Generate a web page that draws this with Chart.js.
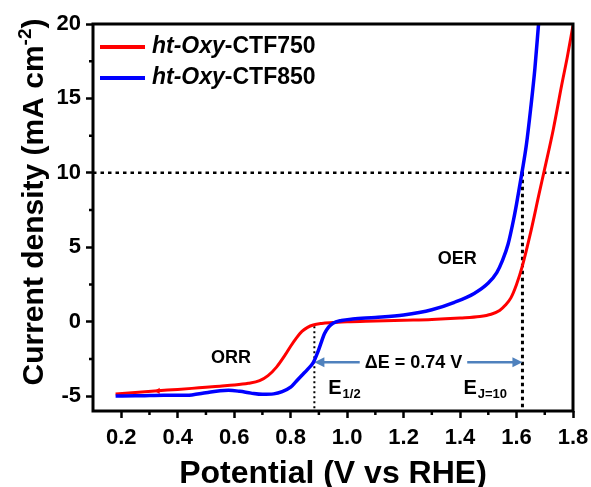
<!DOCTYPE html>
<html><head><meta charset="utf-8">
<script src="https://cdn.jsdelivr.net/npm/chart.js@4"></script>
<style>html,body{margin:0;padding:0;background:#fff;}canvas{display:block;}</style>
</head><body>
<canvas id="c" width="591" height="487"></canvas>
<script>
// ---- data ----
const potential750 = [0.18,0.25,0.33,0.40,0.45,0.50,0.55,0.60,0.65,0.69,0.72,0.75,0.78,0.80,0.82,0.84,0.86,0.88,0.91,0.95,1.00,1.10,1.20,1.30,1.40,1.47,1.51,1.54,1.56,1.58,1.60,1.62,1.65,1.68,1.70,1.73,1.76,1.78,1.80];
const current750   = [-4.85,-4.75,-4.64,-4.55,-4.48,-4.40,-4.33,-4.26,-4.14,-3.96,-3.62,-3.05,-2.25,-1.65,-1.10,-0.65,-0.38,-0.22,-0.12,-0.06,0.00,0.05,0.10,0.15,0.25,0.35,0.50,0.75,1.10,1.60,2.50,3.70,6.00,8.60,10.3,12.9,15.9,17.8,19.9];
const potential850 = [0.18,0.25,0.30,0.35,0.40,0.45,0.50,0.55,0.58,0.62,0.66,0.70,0.74,0.77,0.80,0.82,0.84,0.86,0.88,0.895,0.91,0.92,0.935,0.95,0.98,1.02,1.10,1.20,1.30,1.38,1.45,1.50,1.53,1.55,1.57,1.59,1.60,1.61,1.62,1.635,1.65,1.665,1.678];
const current850   = [-5.00,-4.98,-4.96,-4.94,-4.95,-4.92,-4.78,-4.64,-4.61,-4.68,-4.80,-4.88,-4.85,-4.70,-4.40,-4.00,-3.60,-3.20,-2.75,-2.10,-1.30,-0.80,-0.35,-0.10,0.08,0.18,0.28,0.45,0.80,1.30,1.90,2.60,3.30,4.10,5.20,6.90,7.90,9.00,10.1,11.9,14.3,17.0,20.0];
const markerPotential = [0.33];
const markerCurrent = [-4.65];
const legendItalic = ['ht-Oxy','ht-Oxy'];
const legendRest = ['-CTF750','-CTF850'];
const seriesColors = ['#ff0000','#0000ff'];
const xTicks = [0.2,0.4,0.6,0.8,1.0,1.2,1.4,1.6,1.8];
const xMinorTicks = [0.3,0.5,0.7,0.9,1.1,1.3,1.5,1.7];
const yTicks = [-5,0,5,10,15,20];
const yMinorTicks = [-2.5,2.5,7.5,12.5,17.5];
const eHalf = 0.884, eJ10 = 1.621, jRef = 10, arrowJ = -2.72;
const deltaText = '\u0394E = 0.74 V';

const FONT = "'Liberation Sans', Arial, sans-serif";

const decor = {
  id: 'decor',
  beforeDatasetsDraw(chart) {
    const {ctx, chartArea: a, scales: {x, y}} = chart;
    ctx.save();
    ctx.strokeStyle = '#000';
    // horizontal J=10
    ctx.lineWidth = 2.5; ctx.setLineDash([3.5, 4]);
    ctx.beginPath(); ctx.moveTo(a.left, y.getPixelForValue(jRef)); ctx.lineTo(a.right, y.getPixelForValue(jRef)); ctx.stroke();
    // E J=10 vertical
    ctx.lineWidth = 3; ctx.setLineDash([3.5, 3.5]);
    ctx.beginPath(); ctx.moveTo(x.getPixelForValue(eJ10), y.getPixelForValue(jRef)); ctx.lineTo(x.getPixelForValue(eJ10), a.bottom); ctx.stroke();
    // E1/2 vertical
    ctx.lineWidth = 2; ctx.setLineDash([2, 3]);
    ctx.beginPath(); ctx.moveTo(x.getPixelForValue(eHalf), y.getPixelForValue(-0.3)); ctx.lineTo(x.getPixelForValue(eHalf), a.bottom); ctx.stroke();
    ctx.setLineDash([]);
    // arrow
    const ay = y.getPixelForValue(arrowJ), x1 = x.getPixelForValue(eHalf), x2 = x.getPixelForValue(eJ10);
    ctx.strokeStyle = '#4f81bd'; ctx.fillStyle = '#4f81bd'; ctx.lineWidth = 2.5;
    ctx.beginPath(); ctx.moveTo(x1 + 6, ay); ctx.lineTo(x2 - 6, ay); ctx.stroke();
    ctx.beginPath(); ctx.moveTo(x1, ay); ctx.lineTo(x1 + 10, ay - 5); ctx.lineTo(x1 + 10, ay + 5); ctx.closePath(); ctx.fill();
    ctx.beginPath(); ctx.moveTo(x2, ay); ctx.lineTo(x2 - 10, ay - 5); ctx.lineTo(x2 - 10, ay + 5); ctx.closePath(); ctx.fill();
    // text with white background
    ctx.font = 'bold 18px ' + FONT;
    const tx = x.getPixelForValue(1.235);
    const tw = ctx.measureText(deltaText).width;
    ctx.fillStyle = '#fff'; ctx.fillRect(tx - tw / 2 - 5, ay - 10, tw + 10, 20);
    ctx.fillStyle = '#000'; ctx.textAlign = 'center'; ctx.textBaseline = 'middle';
    ctx.fillText(deltaText, tx, ay + 1);
    ctx.restore();
  },
  afterDraw(chart) {
    const {ctx, chartArea: a, scales: {x, y}} = chart;
    ctx.save();
    // box
    ctx.strokeStyle = '#000'; ctx.lineWidth = 3;
    ctx.strokeRect(a.left, a.top, a.right - a.left, a.bottom - a.top);
    // minor ticks
    ctx.lineWidth = 2.5;
    ctx.beginPath();
    xMinorTicks.forEach(v => { const p = x.getPixelForValue(v); ctx.moveTo(p, a.bottom); ctx.lineTo(p, a.bottom + 4); });
    yMinorTicks.forEach(v => { const p = y.getPixelForValue(v); ctx.moveTo(a.left, p); ctx.lineTo(a.left - 4, p); });
    ctx.stroke();
    // annotations
    ctx.fillStyle = '#000';
    ctx.font = 'bold 18px ' + FONT; ctx.textAlign = 'center'; ctx.textBaseline = 'middle';
    ctx.fillText('ORR', x.getPixelForValue(0.589), y.getPixelForValue(-2.43));
    ctx.fillText('OER', x.getPixelForValue(1.39), y.getPixelForValue(4.2));
    ctx.textAlign = 'left'; ctx.textBaseline = 'alphabetic';
    const sub = (main, s, vx, vy) => {
      const px = x.getPixelForValue(vx), py = y.getPixelForValue(vy);
      ctx.font = 'bold 20px ' + FONT; ctx.fillText(main, px, py);
      const w = ctx.measureText(main).width;
      ctx.font = 'bold 13px ' + FONT; ctx.fillText(s, px + w + 1, py + 4);
    };
    sub('E', '1/2', 0.933, -4.85);
    sub('E', 'J=10', 1.412, -4.85);
    // legend
    for (let i = 0; i < 2; i++) {
      const ly = a.top + 23 + i * 31;
      ctx.strokeStyle = seriesColors[i]; ctx.lineWidth = 4;
      ctx.beginPath(); ctx.moveTo(a.left + 7, ly); ctx.lineTo(a.left + 52, ly); ctx.stroke();
      ctx.fillStyle = '#000'; ctx.textBaseline = 'alphabetic'; ctx.textAlign = 'left';
      ctx.font = 'italic bold 23px ' + FONT;
      ctx.fillText(legendItalic[i], a.left + 59, ly + 6);
      const w = ctx.measureText(legendItalic[i]).width;
      ctx.font = 'bold 23px ' + FONT;
      ctx.fillText(legendRest[i], a.left + 59 + w, ly + 6);
    }
    // x title
    ctx.font = 'bold 32px ' + FONT; ctx.textAlign = 'center'; ctx.textBaseline = 'alphabetic';
    ctx.fillText('Potential (V vs RHE)', (a.left + a.right) / 2, 483);
    // y title with superscript
    ctx.translate(43, 202); ctx.rotate(-Math.PI / 2);
    const p1 = 'Current density (mA cm', sup = '-2', p2 = ')';
    ctx.font = 'bold 30px ' + FONT; const w1 = ctx.measureText(p1).width, w3 = ctx.measureText(p2).width;
    ctx.font = 'bold 19px ' + FONT; const w2 = ctx.measureText(sup).width;
    let sx = -(w1 + w2 + w3) / 2;
    ctx.textAlign = 'left';
    ctx.font = 'bold 30px ' + FONT; ctx.fillText(p1, sx, 0); sx += w1;
    ctx.font = 'bold 19px ' + FONT; ctx.fillText(sup, sx, -12); sx += w2;
    ctx.font = 'bold 30px ' + FONT; ctx.fillText(p2, sx, 0);
    ctx.restore();
  }
};

const tickFont = {family: FONT, size: 22, weight: 'bold'};
new Chart(document.getElementById('c'), {
  type: 'scatter',
  data: {
    datasets: [
      {label: legendItalic[0] + legendRest[0], data: potential750.map((v, i) => ({x: v, y: current750[i]})), showLine: true, borderColor: seriesColors[0], backgroundColor: seriesColors[0], borderWidth: 3, pointRadius: 0, cubicInterpolationMode: 'monotone', order: 2},
      {label: legendItalic[1] + legendRest[1], data: potential850.map((v, i) => ({x: v, y: current850[i]})), showLine: true, borderColor: seriesColors[1], backgroundColor: seriesColors[1], borderWidth: 3.5, pointRadius: 0, cubicInterpolationMode: 'monotone', order: 1},
      {label: 'marker', data: markerPotential.map((v, i) => ({x: v, y: markerCurrent[i]})), showLine: false, pointStyle: 'triangle', rotation: 270, pointRadius: 3.5, borderWidth: 0, backgroundColor: seriesColors[0], borderColor: seriesColors[0], order: 3}
    ]
  },
  options: {
    responsive: false, animation: false, devicePixelRatio: 1,
    layout: {padding: {top: 24, right: 18, left: 0, bottom: 0}},
    plugins: {legend: {display: false}, tooltip: {enabled: false}},
    scales: {
      x: {
        type: 'linear', min: 0.1, max: 1.8,
        afterBuildTicks: s => { s.ticks = xTicks.map(v => ({value: v})); },
        afterFit: s => { s.height = 76; s.paddingLeft = 0; s.paddingRight = 0; },
        border: {display: false},
        grid: {drawOnChartArea: false, drawTicks: true, tickLength: 7, tickWidth: 2.5, tickColor: '#000'},
        ticks: {font: tickFont, color: '#000', padding: 7, maxRotation: 0, autoSkip: false, callback: v => Number(v).toFixed(1)}
      },
      y: {
        type: 'linear', min: -6, max: 20,
        afterBuildTicks: s => { s.ticks = yTicks.map(v => ({value: v})); },
        afterFit: s => { s.width = 93; s.paddingTop = 0; s.paddingBottom = 0; },
        border: {display: false},
        grid: {drawOnChartArea: false, drawTicks: true, tickLength: 7, tickWidth: 2.5, tickColor: '#000'},
        ticks: {font: tickFont, color: '#000', padding: 5, autoSkip: false, callback: v => String(v)}
      }
    }
  },
  plugins: [decor]
});
</script>
</body></html>
